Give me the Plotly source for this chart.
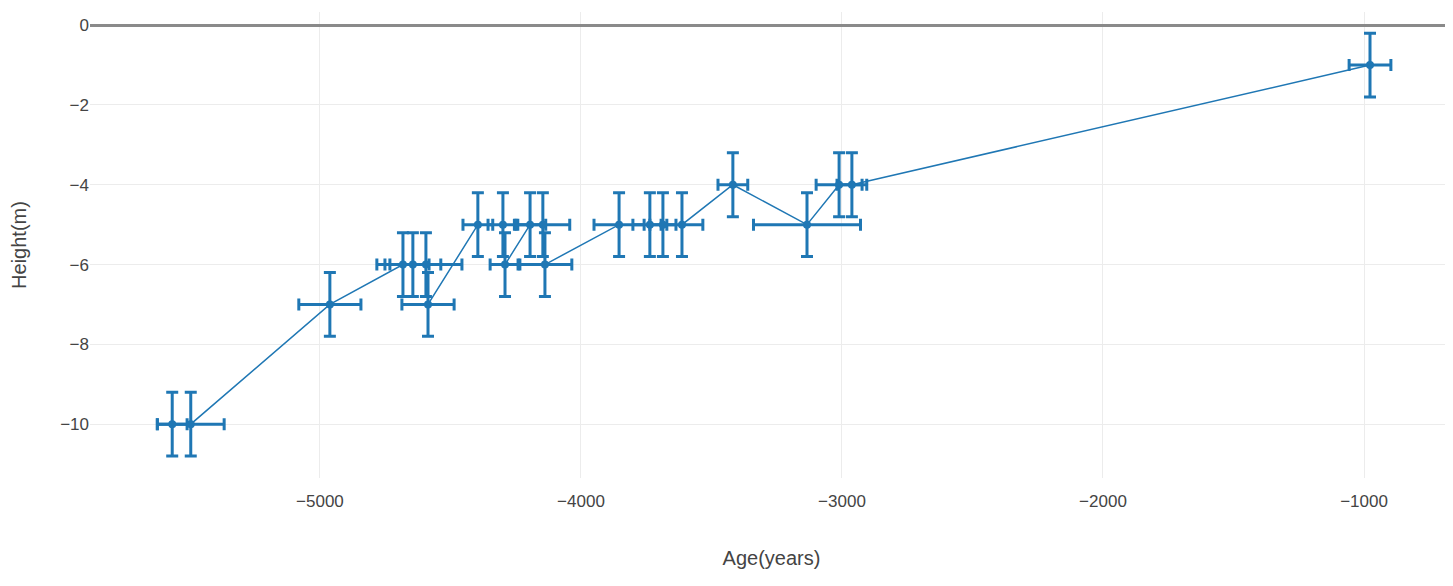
import plotly.graph_objects as go

age = [-5566, -5495, -4962, -4682, -4644, -4594, -4586, -4395, -4299, -4291, -4195,
       -4146, -4138, -3854, -3736, -3686, -3613, -3418, -3134, -3011, -2962, -977]
height = [-10, -10, -7, -6, -6, -6, -7, -5, -5, -6, -5,
          -5, -6, -5, -5, -5, -5, -4, -5, -4, -4, -1]
age_err = [57, 128, 119, 100, 107, 138, 100, 57, 57, 57, 60,
           103, 103, 96, 65, 50, 80, 57, 205, 88, 57, 80]
height_err = [0.8] * len(age)

x_ticks = [-5000, -4000, -3000, -2000, -1000]
y_ticks = [0, -2, -4, -6, -8, -10]

blue = "#1f77b4"

fig = go.Figure(
    go.Scatter(
        x=age, y=height, mode="lines+markers",
        line=dict(color=blue, width=1.5),
        marker=dict(color=blue, size=8),
        error_x=dict(type="data", array=age_err, visible=True, color=blue, thickness=3, width=6),
        error_y=dict(type="data", array=height_err, visible=True, color=blue, thickness=3, width=6),
        showlegend=False,
    )
)

font_color = "#444"
fig.update_layout(
    width=1445, height=578,
    margin=dict(l=82, r=0, t=4, b=108, autoexpand=False),
    paper_bgcolor="white", plot_bgcolor="white",
    font=dict(family="Liberation Sans, Arial, sans-serif", color=font_color, size=17),
    xaxis=dict(
        title=dict(text="Age(years)", font=dict(size=20), standoff=40),
        range=[-5881, -659], tickvals=x_ticks, automargin=False,
        showgrid=True, gridcolor="#ececec", gridwidth=1,
        zeroline=False, showline=False,
        ticks="outside", ticklen=8, tickcolor="rgba(0,0,0,0)",
    ),
    yaxis=dict(
        title=dict(text="Height(m)", font=dict(size=20), standoff=46),
        range=[-11.35, 0.33], tickvals=y_ticks, automargin=False,
        showgrid=True, gridcolor="#ececec", gridwidth=1,
        zeroline=True, zerolinecolor="#8a8a8a", zerolinewidth=3,
        showline=False, ticks="",
    ),
)

fig.write_html("out.html")
